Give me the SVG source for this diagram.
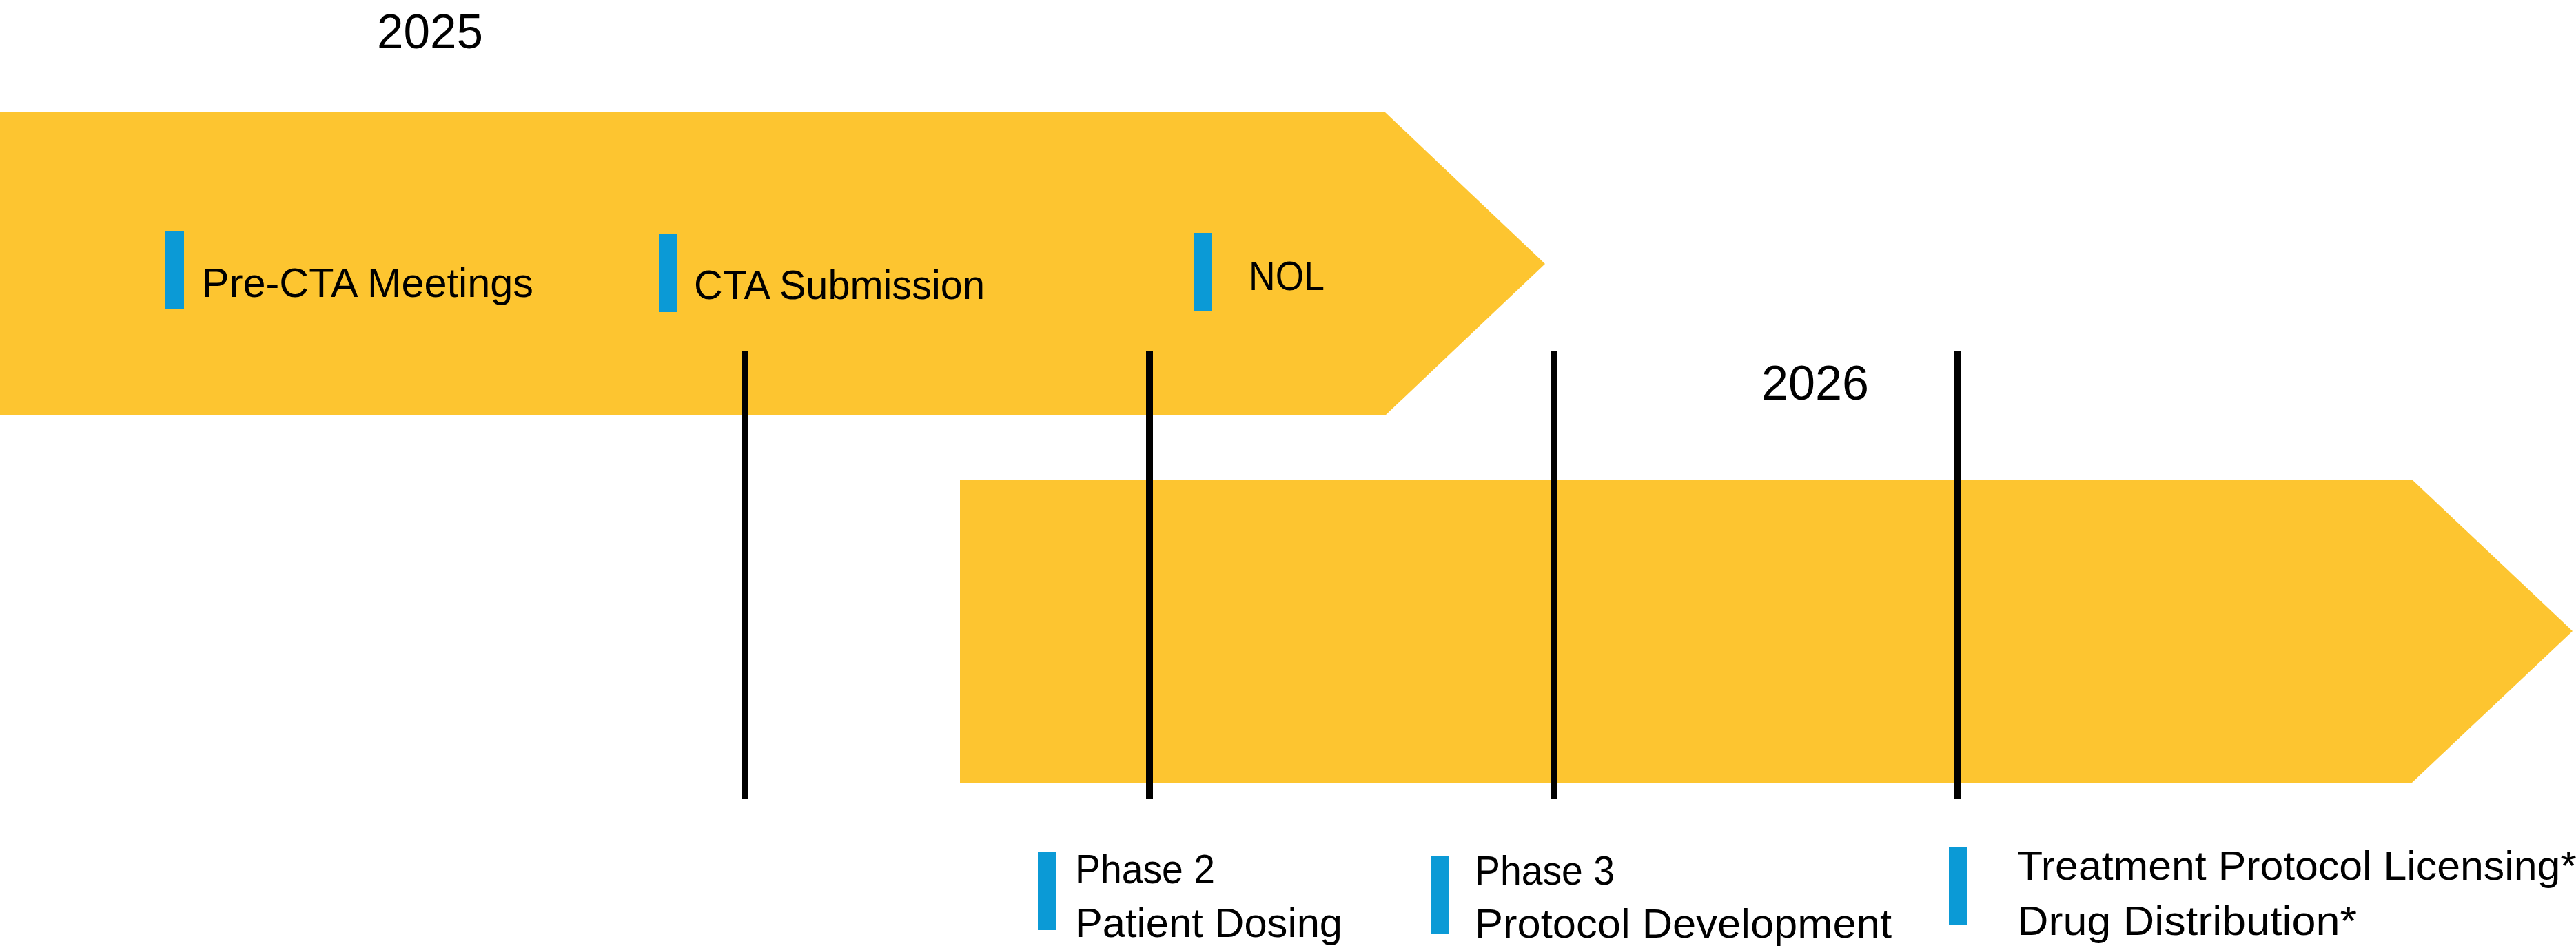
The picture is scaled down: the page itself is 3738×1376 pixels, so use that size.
<svg xmlns="http://www.w3.org/2000/svg" width="3738" height="1376" viewBox="0 0 3738 1376">
<style>
.band{fill:#FDC530}
.mark{fill:#0B9AD6}
.lbl{font-family:"Liberation Sans",Arial,sans-serif;font-size:59px;fill:#000}
.year{font-family:"Liberation Sans",Arial,sans-serif;font-size:71px;fill:#000}
.tick{stroke:#000;stroke-width:10;fill:none}
</style>
<rect width="3738" height="1376" fill="#fff"/>
<g id="band-2025"><polygon class="band" points="0,163 2010,163 2242,383 2010,603 0,603"/></g>
<g id="band-2026"><polygon class="band" points="1393,696 3500,696 3733,916 3500,1136 1393,1136"/></g>
<g id="year-2025"><text class="year" x="547" y="70" textLength="154" lengthAdjust="spacingAndGlyphs">2025</text></g>
<g id="year-2026"><text class="year" x="2556" y="580" textLength="156" lengthAdjust="spacingAndGlyphs">2026</text></g>
<g id="connectors">
<line class="tick" x1="1081" y1="509" x2="1081" y2="1160"/>
<line class="tick" x1="1668" y1="509" x2="1668" y2="1160"/>
<line class="tick" x1="2255" y1="509" x2="2255" y2="1160"/>
<line class="tick" x1="2841" y1="509" x2="2841" y2="1160"/>
</g>
<g id="pre-cta"><rect class="mark" x="240" y="335" width="27" height="114"/><text class="lbl" x="293" y="431" textLength="481" lengthAdjust="spacingAndGlyphs">Pre-CTA Meetings</text></g>
<g id="cta-submission"><rect class="mark" x="956" y="339" width="27" height="114"/><text class="lbl" x="1007" y="434" textLength="422" lengthAdjust="spacingAndGlyphs">CTA Submission</text></g>
<g id="nol"><rect class="mark" x="1732" y="338" width="27" height="114"/><text class="lbl" x="1812" y="421" textLength="110" lengthAdjust="spacingAndGlyphs">NOL</text></g>
<g id="phase2"><rect class="mark" x="1506" y="1236" width="27" height="114"/><text class="lbl" x="1560" y="1282" textLength="203" lengthAdjust="spacingAndGlyphs">Phase 2</text><text class="lbl" x="1560" y="1360" textLength="388" lengthAdjust="spacingAndGlyphs">Patient Dosing</text></g>
<g id="phase3"><rect class="mark" x="2076" y="1242" width="27" height="114"/><text class="lbl" x="2140" y="1284" textLength="203" lengthAdjust="spacingAndGlyphs">Phase 3</text><text class="lbl" x="2140" y="1361" textLength="605" lengthAdjust="spacingAndGlyphs">Protocol Development</text></g>
<g id="licensing"><rect class="mark" x="2828" y="1229" width="27" height="113"/><text class="lbl" x="2927" y="1277" textLength="812" lengthAdjust="spacingAndGlyphs">Treatment Protocol Licensing*</text><text class="lbl" x="2927" y="1357" textLength="493" lengthAdjust="spacingAndGlyphs">Drug Distribution*</text></g>
</svg>
